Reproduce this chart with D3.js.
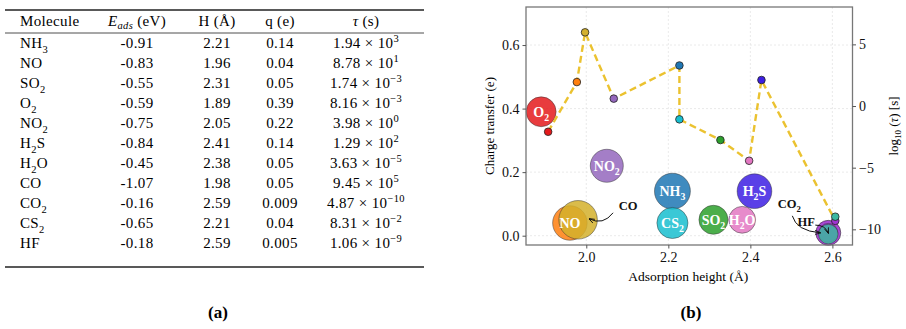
<!DOCTYPE html>
<html>
<head>
<meta charset="utf-8">
<script src="https://cdn.jsdelivr.net/npm/d3@7"></script>
<style>
  body { margin: 0; background: #fff; }
  svg { display: block; }
</style>
</head>
<body>
<div id="container"></div>
<script>
// table data
const molecules = ["NH3", "NO", "SO2", "O2", "NO2", "H2S", "H2O", "CO", "CO2", "CS2", "HF"];
const eAds = [-0.91, -0.83, -0.55, -0.59, -0.75, -0.84, -0.45, -1.07, -0.16, -0.65, -0.18];
const heights = [2.21, 1.96, 2.31, 1.89, 2.05, 2.41, 2.38, 1.98, 2.59, 2.21, 2.59];
const charges = [0.14, 0.04, 0.05, 0.39, 0.22, 0.14, 0.05, 0.05, 0.009, 0.04, 0.005];
const tauMant = [1.94, 8.78, 1.74, 8.16, 3.98, 1.29, 3.63, 9.45, 4.87, 8.31, 1.06];
const tauExp = [3, 1, -3, -3, 0, 2, -5, 5, -10, -2, -9];

const colors = ["#1f77b4", "#ff7f0e", "#2ca02c", "#e41a1c", "#9467bd", "#3d1fe3",
                "#e377c2", "#d4b02c", "#a033d0", "#17becf", "#3cb8a0"];

const xTicks = [2.0, 2.2, 2.4, 2.6];
const qTicks = [0.0, 0.2, 0.4, 0.6];
const logTicks = [5, 0, -5, -10];

// molecules annotated outside their bubble (label offset, arrow end offset)
const outside = {
  CO: { lx: 50, ly: -14, ax: 11, ay: -1 },
  CO2: { lx: -39, ly: -29, ax: -8, ay: 0 },
  HF: { lx: -22, ly: -13, ax: 0, ay: -1 }
};

const SERIF = "'Liberation Serif', 'Times New Roman', serif";

let svg = d3.select("#container").append("svg")
  .attr("width", 906).attr("height", 329)
  .attr("font-family", SERIF);

// writes a formula with digits as subscripts
let addChem = (sel, str, size) => {
  let shift = 0;
  str.split(/(\d+)/).filter(s => s.length).forEach(part => {
    let isSub = /^\d+$/.test(part);
    let target = isSub ? size * 0.3 : 0;
    sel.append("tspan")
      .attr("dy", target - shift)
      .attr("font-size", isSub ? size * 0.7 : size)
      .text(part);
    shift = target;
  });
};

// ---------- panel (a): table ----------
let tbl = svg.append("g").attr("letter-spacing", 0.35);
let colX = { mol: 20, e: 137, h: 217, q: 280, tau: 366 };
let headY = 26, row0 = 48, rowStep = 20;
let fs = 15;

tbl.append("line").attr("x1", 5).attr("x2", 424).attr("y1", 10).attr("y2", 10)
  .attr("stroke", "#222").attr("stroke-width", 1.3);
tbl.append("line").attr("x1", 5).attr("x2", 424).attr("y1", 33).attr("y2", 33)
  .attr("stroke", "#222").attr("stroke-width", 0.8);
tbl.append("line").attr("x1", 5).attr("x2", 424)
  .attr("y1", row0 + rowStep * (molecules.length - 1) + 19)
  .attr("y2", row0 + rowStep * (molecules.length - 1) + 19)
  .attr("stroke", "#222").attr("stroke-width", 1.3);

tbl.append("text").attr("x", colX.mol).attr("y", headY).attr("font-size", fs).text("Molecule");
let eh = tbl.append("text").attr("x", colX.e).attr("y", headY).attr("font-size", fs)
  .attr("text-anchor", "middle");
eh.append("tspan").attr("font-style", "italic").text("E");
eh.append("tspan").attr("font-style", "italic").attr("font-size", fs * 0.7).attr("dy", 3).text("ads");
eh.append("tspan").attr("dy", -3).text(" (eV)");
tbl.append("text").attr("x", colX.h).attr("y", headY).attr("font-size", fs)
  .attr("text-anchor", "middle").text("H (Å)");
tbl.append("text").attr("x", colX.q).attr("y", headY).attr("font-size", fs)
  .attr("text-anchor", "middle").text("q (e)");
let th = tbl.append("text").attr("x", colX.tau).attr("y", headY).attr("font-size", fs)
  .attr("text-anchor", "middle");
th.append("tspan").attr("font-style", "italic").text("τ");
th.append("tspan").text(" (s)");

molecules.forEach((m, i) => {
  let y = row0 + i * rowStep;
  let t = tbl.append("text").attr("x", colX.mol).attr("y", y).attr("font-size", fs);
  addChem(t, m, fs);
  tbl.append("text").attr("x", colX.e).attr("y", y).attr("font-size", fs)
    .attr("text-anchor", "middle").text(String(eAds[i]));
  tbl.append("text").attr("x", colX.h).attr("y", y).attr("font-size", fs)
    .attr("text-anchor", "middle").text(heights[i].toFixed(2));
  tbl.append("text").attr("x", colX.q).attr("y", y).attr("font-size", fs)
    .attr("text-anchor", "middle").text(String(charges[i]));
  let tt = tbl.append("text").attr("x", colX.tau).attr("y", y).attr("font-size", fs)
    .attr("text-anchor", "middle");
  tt.append("tspan").text(tauMant[i].toFixed(2) + " × 10");
  tt.append("tspan").attr("dy", -6).attr("font-size", fs * 0.7)
    .text(String(tauExp[i]).replace("-", "−"));
});

svg.append("text").attr("x", 218).attr("y", 318).attr("font-size", 17)
  .attr("font-weight", "bold").attr("text-anchor", "middle").text("(a)");
svg.append("text").attr("x", 691).attr("y", 318).attr("font-size", 17)
  .attr("font-weight", "bold").attr("text-anchor", "middle").text("(b)");

// ---------- panel (b): bubble chart ----------
let plot = { left: 526, right: 852.5, top: 7, bottom: 245 };
let x = d3.scaleLinear().domain([1.853, 2.649]).range([plot.left, plot.right]);
let yq = d3.scaleLinear().domain([-0.0293, 0.7197]).range([plot.bottom, plot.top]);
let ylog = d3.scaleLinear().domain([-11.27, 8.03]).range([plot.bottom, plot.top]);
let area = d3.scaleLinear().domain([0, 1.07]).range([40, 372]);
let rOf = i => Math.sqrt(area(Math.abs(eAds[i])));
let dotShift = 0.017;
let logTau = molecules.map((m, i) => Math.log10(tauMant[i]) + tauExp[i]);

let chart = svg.append("g");

// grid
chart.selectAll(".gx").data(xTicks).join("line")
  .attr("x1", d => x(d)).attr("x2", d => x(d))
  .attr("y1", plot.top).attr("y2", plot.bottom)
  .attr("stroke", "#e4e4e4").attr("stroke-width", 0.8).attr("stroke-dasharray", "2,2");
chart.selectAll(".gy").data(qTicks).join("line")
  .attr("x1", plot.left).attr("x2", plot.right)
  .attr("y1", d => yq(d)).attr("y2", d => yq(d))
  .attr("stroke", "#e4e4e4").attr("stroke-width", 0.8).attr("stroke-dasharray", "2,2");

// bubbles (CO2 gets a slightly larger backing disk so it shows as a ring behind HF)
let idx = d3.range(molecules.length);
chart.append("circle")
  .attr("cx", x(heights[8])).attr("cy", yq(charges[8]))
  .attr("r", rOf(8) + 3).attr("fill", colors[8]).attr("fill-opacity", 0.9)
  .attr("stroke", "#333").attr("stroke-width", 0.6);
chart.selectAll(".bubble").data(idx).join("circle")
  .attr("class", "bubble")
  .attr("cx", i => x(heights[i])).attr("cy", i => yq(charges[i]))
  .attr("r", i => rOf(i))
  .attr("fill", i => colors[i]).attr("fill-opacity", 0.85)
  .attr("stroke", "#333").attr("stroke-width", 0.6).attr("stroke-opacity", 0.8);

idx.filter(i => !outside[molecules[i]]).forEach(i => {
  let t = chart.append("text")
    .attr("x", x(heights[i])).attr("y", yq(charges[i]) + 5)
    .attr("text-anchor", "middle").attr("font-weight", "bold")
    .attr("fill", "#fff");
  addChem(t, molecules[i], 14);
});

// external annotations
let defs = svg.append("defs");
defs.append("marker").attr("id", "arr").attr("viewBox", "0 0 10 10")
  .attr("refX", 9).attr("refY", 5).attr("markerWidth", 6).attr("markerHeight", 6)
  .attr("orient", "auto")
  .append("path").attr("d", "M0,1.5 L10,5 L0,8.5").attr("fill", "none")
  .attr("stroke", "#111").attr("stroke-width", 1.4);

Object.keys(outside).forEach(m => {
  let i = molecules.indexOf(m), o = outside[m];
  let cx = x(heights[i]), cy = yq(charges[i]);
  let lx = cx + o.lx, ly = cy + o.ly;
  let t = chart.append("text").attr("x", lx).attr("y", ly + 4.5)
    .attr("text-anchor", "middle").attr("font-weight", "bold").attr("fill", "#111");
  addChem(t, m, 12.5);
  let tx = cx + o.ax, ty = cy + o.ay;
  let sx, sy, qx, qy;
  if (o.lx > 0) { sx = lx - 15; sy = ly + 7; qx = (sx + tx) / 2 + 2; qy = ty + 7; }
  else if (o.ly < -20) { sx = lx + 3; sy = ly + 12; qx = sx + 4; qy = ty - 2; }
  else { sx = lx + 9; sy = ly + 4; qx = tx - 3; qy = sy; }
  chart.append("path")
    .attr("d", `M${sx},${sy} Q${qx},${qy} ${tx},${ty}`)
    .attr("fill", "none").attr("stroke", "#111").attr("stroke-width", 1)
    .attr("marker-end", "url(#arr)");
});

// dashed line + dots for log10(tau), sorted by height
let order = idx.slice().sort((a, b) => heights[a] - heights[b]);
let line = d3.line().x(i => x(heights[i] + dotShift)).y(i => ylog(logTau[i]));
chart.append("path").datum(order).attr("d", line)
  .attr("fill", "none").attr("stroke", "#ebc230").attr("stroke-width", 2.4)
  .attr("stroke-dasharray", "7,4");
chart.selectAll(".dot").data(order).join("circle")
  .attr("class", "dot")
  .attr("cx", i => x(heights[i] + dotShift)).attr("cy", i => ylog(logTau[i]))
  .attr("r", 3.8).attr("fill", i => colors[i])
  .attr("stroke", "#222").attr("stroke-width", 0.8);

// frame
chart.append("rect")
  .attr("x", plot.left).attr("y", plot.top)
  .attr("width", plot.right - plot.left).attr("height", plot.bottom - plot.top)
  .attr("fill", "none").attr("stroke", "#777").attr("stroke-width", 1.3);

// axes
let styleAxis = g => {
  g.attr("font-family", SERIF).attr("font-size", 14);
  g.select(".domain").remove();
  g.selectAll(".tick line").attr("stroke", "#555");
  g.selectAll(".tick text").attr("fill", "#111");
};
chart.append("g").attr("transform", `translate(0,${plot.bottom})`)
  .call(d3.axisBottom(x).tickValues(xTicks).tickFormat(d3.format(".1f")).tickSize(3.5).tickPadding(4))
  .call(styleAxis);
chart.append("g").attr("transform", `translate(${plot.left},0)`)
  .call(d3.axisLeft(yq).tickValues(qTicks).tickFormat(d3.format(".1f")).tickSize(3.5).tickPadding(3))
  .call(styleAxis);
chart.append("g").attr("transform", `translate(${plot.right},0)`)
  .call(d3.axisRight(ylog).tickValues(logTicks).tickFormat(d3.format("d")).tickSize(3.5).tickPadding(3))
  .call(styleAxis);

// axis labels
chart.append("text").attr("x", (plot.left + plot.right) / 2 - 1).attr("y", 281)
  .attr("text-anchor", "middle").attr("font-size", 13.5).text("Adsorption height (Å)");
chart.append("text")
  .attr("transform", `translate(494,${(plot.top + plot.bottom) / 2}) rotate(-90)`)
  .attr("text-anchor", "middle").attr("font-size", 13).text("Charge transfer (e)");
let rl = chart.append("text")
  .attr("transform", `translate(898,${(plot.top + plot.bottom) / 2}) rotate(-90)`)
  .attr("text-anchor", "middle").attr("font-size", 13);
rl.append("tspan").text("log");
rl.append("tspan").attr("font-size", 9).attr("dy", 3).text("10");
rl.append("tspan").attr("dy", -3).text(" (");
rl.append("tspan").attr("font-style", "italic").text("τ");
rl.append("tspan").text(") [s]");
</script>
</body>
</html>
